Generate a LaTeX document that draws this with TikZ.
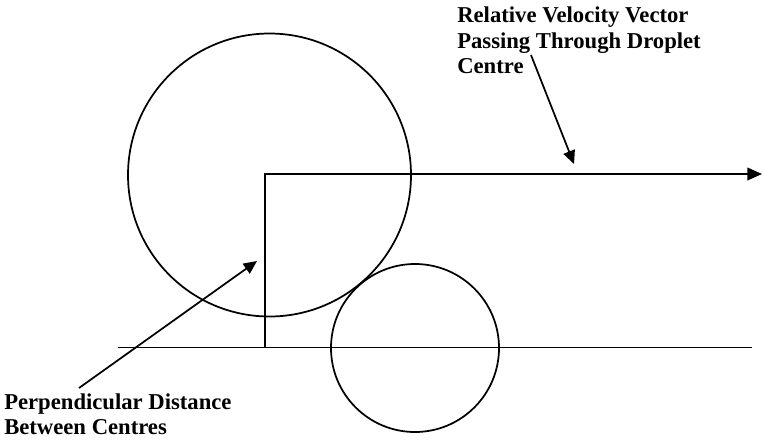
\documentclass[tikz,border=0pt]{standalone}
\usepackage{fontspec}
\setmainfont{Liberation Serif}
\usetikzlibrary{arrows.meta}
\tikzset{
  outline/.style={line width=1.3pt, draw=black},
  vector/.style={outline, -{Triangle[length=11pt,width=9.5pt]}},
  pointer/.style={outline, -{Triangle[length=10pt,width=9pt]}},
  caption/.style={
    font=\fontsize{17}{19}\selectfont\bfseries,
    align=left,
    inner sep=0pt,
    anchor=north west
  }
}

\begin{document}
\begin{tikzpicture}[x=0.75pt,y=-0.75pt]
\useasboundingbox (0,0) rectangle (763,443);

% droplets
\coordinate (bigc) at (269.5,175);
\coordinate (smallc) at (415,348);
\draw[outline] (bigc) circle[radius=141.5];
\draw[outline] (smallc) circle[radius=84];

% relative velocity vector and centre line
\coordinate (vfoot) at (265,347.5);
\coordinate (vstart) at (265,174);
\coordinate (vend) at (762,174);
\coordinate (axisl) at (118,347.5);
\coordinate (axisr) at (752,347.5);
\draw[vector] (vfoot) -- (vstart) -- (vend);
\draw[outline] (axisl) -- (axisr);

% labels
\node[caption] (vlabel) at (457,7) {Relative Velocity Vector\\Passing Through Droplet\\Centre};
\node[caption] (dlabel) at (4,393) {Perpendicular Distance\\Between Centres};

% pointers
\coordinate (vtail) at (531,55);
\coordinate (vtip) at (574,164);
\coordinate (dtail) at (79,388);
\coordinate (dtip) at (257,261);
\draw[pointer] (vtail) -- (vtip);
\draw[pointer] (dtail) -- (dtip);

\end{tikzpicture}
\end{document}
